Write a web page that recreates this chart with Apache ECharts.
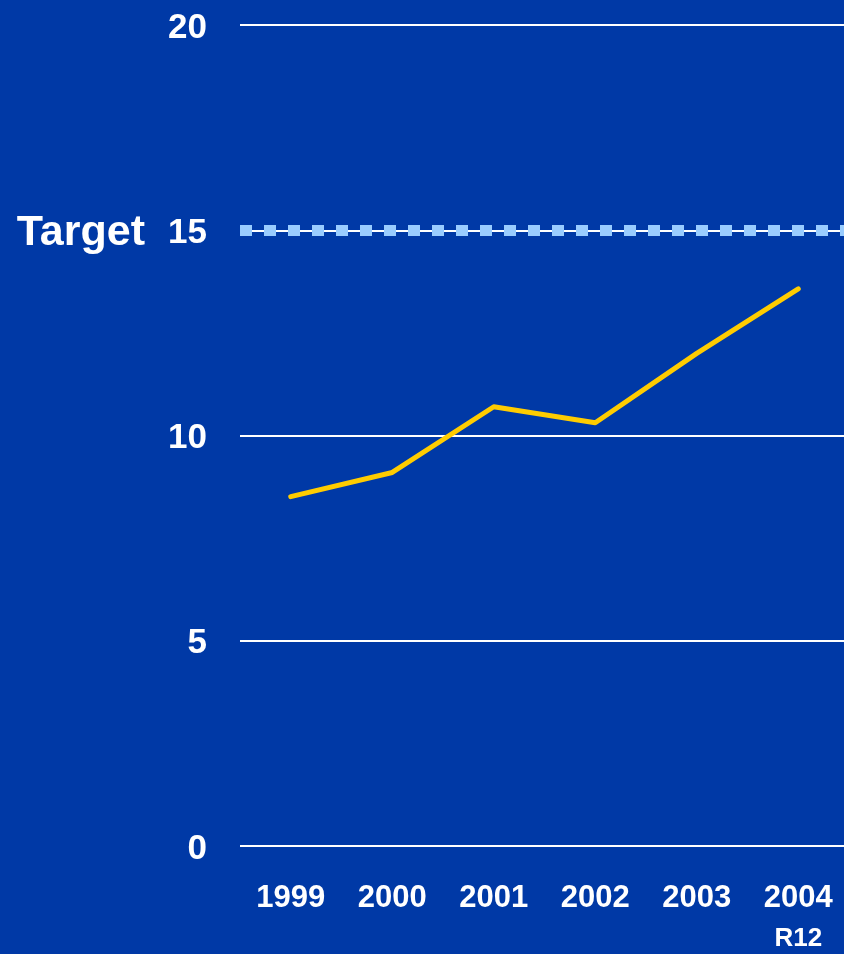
<!DOCTYPE html>
<html>
<head>
<meta charset="utf-8">
<script src="https://cdn.jsdelivr.net/npm/echarts@6/dist/echarts.min.js"></script>
<style>
  html, body { margin: 0; padding: 0; background: #0039a6; }
  #main { width: 844px; height: 954px; }
</style>
</head>
<body>
<div id="main"></div>
<script>
// values
const years = ['1999', '2000', '2001', '2002', '2003', '2004'];
const yearNotes = ['', '', '', '', '', 'R12'];
const rate = [8.51, 9.10, 10.70, 10.31, 12.00, 13.57];
const target = 15;
const targetLabel = 'Target';

const labelFont = "'Liberation Sans Narrow', 'Arial Narrow', 'Liberation Sans', Arial, sans-serif";

var myChart = echarts.init(document.getElementById('main'));
myChart.setOption({
    animation: false,
    backgroundColor: '#0039a6',
    grid: {
        left: 240,
        width: 609,
        top: 25,
        bottom: 108,
        containLabel: false,
        outerBoundsMode: 'none'
    },
    xAxis: {
        type: 'category',
        data: years,
        axisLine: { show: false },
        axisTick: { show: false },
        splitLine: { show: false },
        axisLabel: {
            margin: 32,
            formatter: function (value, idx) {
                let note = yearNotes[idx];
                return note ? `{a|${value}}\n{b|${note}}` : `{a|${value}}`;
            },
            rich: {
                a: {
                    color: '#fff',
                    fontFamily: labelFont,
                    fontWeight: 'bold',
                    fontSize: 31,
                    lineHeight: 40
                },
                b: {
                    color: '#fff',
                    fontFamily: labelFont,
                    fontWeight: 'bold',
                    fontSize: 26,
                    lineHeight: 42
                }
            }
        }
    },
    yAxis: {
        type: 'value',
        min: 0,
        max: 20,
        interval: 5,
        axisLine: { show: false },
        axisTick: { show: false },
        splitLine: {
            lineStyle: { color: '#fff', width: 2 }
        },
        axisLabel: {
            margin: 33,
            formatter: '{v|{value}}',
            rich: {
                v: {
                    color: '#fff',
                    fontFamily: labelFont,
                    fontWeight: 'bold',
                    fontSize: 35,
                    lineHeight: 40,
                    padding: [6, 0, 0, 0]
                }
            }
        }
    },
    series: [
        {
            name: 'rate',
            type: 'line',
            data: rate,
            symbol: 'none',
            lineStyle: { color: '#ffcc00', width: 5, cap: 'round', join: 'round' },
            markLine: {
                silent: true,
                symbol: 'none',
                lineStyle: {
                    color: '#99ccff',
                    width: 11,
                    type: [12, 12]
                },
                label: {
                    position: 'start',
                    distance: 95,
                    offset: [0, 3],
                    formatter: targetLabel,
                    color: '#fff',
                    fontFamily: "'Liberation Sans', Arial, sans-serif",
                    fontWeight: 'bold',
                    fontSize: 43
                },
                data: [{ yAxis: target }]
            }
        }
    ]
});
</script>
</body>
</html>
